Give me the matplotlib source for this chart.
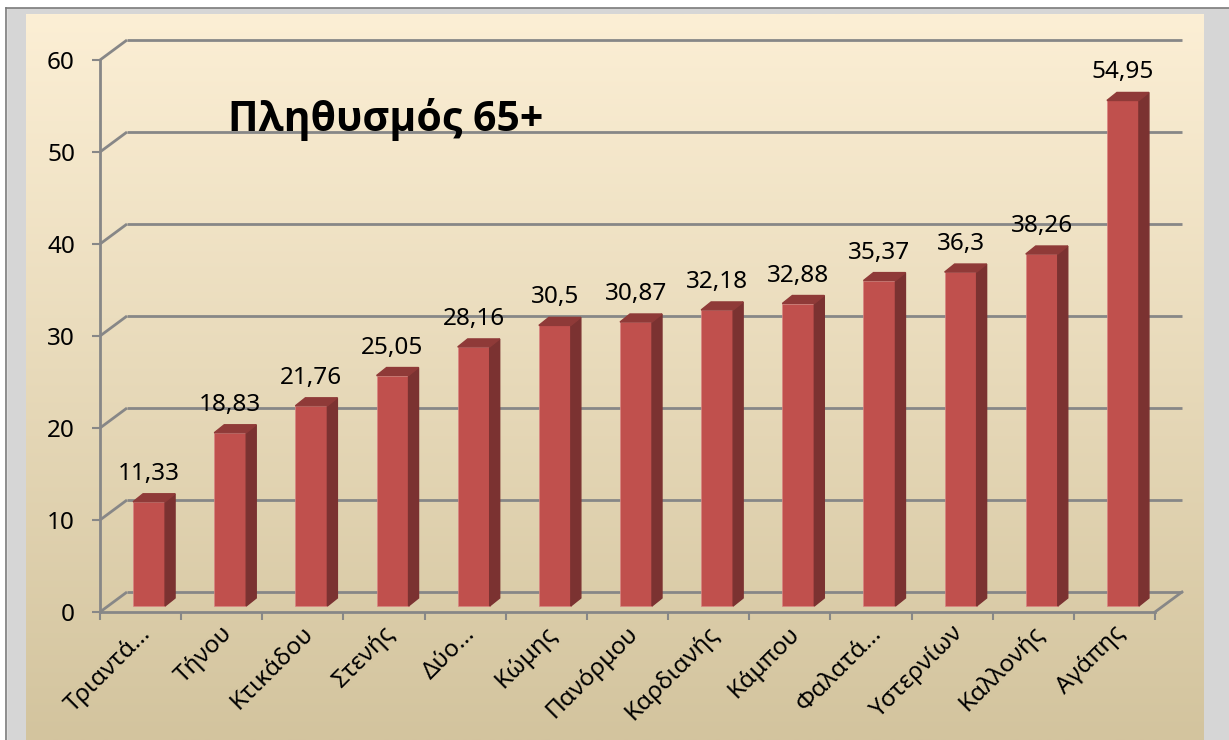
import numpy as np
import matplotlib
matplotlib.use('Agg')
import matplotlib.pyplot as plt
from matplotlib.patches import Polygon, Rectangle
from matplotlib.transforms import ScaledTranslation

plt.rcParams['font.family'] = ['Noto Sans', 'DejaVu Sans']

# data
areas = ['Τριαντά…', 'Τήνου', 'Κτικάδου', 'Στενής', 'Δύο…', 'Κώμης', 'Πανόρμου',
         'Καρδιανής', 'Κάμπου', 'Φαλατά…', 'Υστερνίων', 'Καλλονής', 'Αγάπης']
values = [11.33, 18.83, 21.76, 25.05, 28.16, 30.5, 30.87, 32.18, 32.88, 35.37, 36.3, 38.26, 54.95]
yticks = [0, 10, 20, 30, 40, 50, 60]
title = 'Πληθυσμός 65+'

W, H, DPI = 1229, 740, 100
fig = plt.figure(figsize=(W / DPI, H / DPI), dpi=DPI)
fig.patch.set_facecolor('#d6d6d6')

# outer frame bits (white margin + dark border)
fig.add_artist(Rectangle((0, 1 - 7 / H), 1, 7 / H, transform=fig.transFigure, color='white', zorder=0))
fig.add_artist(Rectangle((0, 0), 6 / W, 1, transform=fig.transFigure, color='white', zorder=0))
fig.add_artist(plt.Line2D([6.5 / W, 6.5 / W], [0, 1 - 7.5 / H], transform=fig.transFigure, color='#7a7a7a', lw=1.2))
fig.add_artist(plt.Line2D([6.5 / W, 1], [1 - 7.5 / H, 1 - 7.5 / H], transform=fig.transFigure, color='#7a7a7a', lw=1.2))

# gradient background of chart area
bg = fig.add_axes([26 / W, 0, (1204 - 26) / W, (H - 14) / H], zorder=0)
grad = np.linspace(0, 1, 256)[:, None]
c_top = np.array([252, 239, 213]) / 255
c_bot = np.array([211, 196, 158]) / 255
img = c_top[None, None, :] * (1 - grad[..., None]) + c_bot[None, None, :] * grad[..., None]
bg.imshow(img, aspect='auto', extent=[0, 1, 0, 1])
bg.axis('off')

# main axes: front plane, 0..13 by 0..60
x0, x1, y0, y1 = 100, 1155, 612, 60
ax = fig.add_axes([x0 / W, (H - y0) / H, (x1 - x0) / W, (y0 - y1) / H], zorder=1)
ax.patch.set_alpha(0)
n = len(areas)
ax.set_xlim(0, n)
ax.set_ylim(0, 60)
ppx = (x1 - x0) / n          # pixels per category
ppy = (y0 - y1) / 60         # pixels per unit

def dx(px):
    return px / ppx

def dy(px):
    return px / ppy

grid_c = '#878787'
# back wall offset
bx, by = dx(27), dy(20)
for t in yticks:
    ax.plot([0, bx], [t, t + by], color=grid_c, lw=2, clip_on=False, solid_capstyle='butt')
    ax.plot([bx, n + bx], [t + by, t + by], color=grid_c, lw=2, clip_on=False, solid_capstyle='butt')
ax.plot([n, n + bx], [0, by], color=grid_c, lw=2, clip_on=False)

for s in ['top', 'right']:
    ax.spines[s].set_visible(False)
for s in ['left', 'bottom']:
    ax.spines[s].set_color(grid_c)
    ax.spines[s].set_linewidth(2)

fs = 17.5
ax.set_yticks(yticks)
ax.tick_params(axis='y', length=6, width=1.5, color=grid_c, pad=12, labelsize=fs)
ax.set_xticks(np.arange(n + 1))
ax.set_xticklabels([])
ax.tick_params(axis='x', which='major', length=6, width=1.5, color=grid_c)
ax.set_xticks(np.arange(n) + 0.5, minor=True)
ax.set_xticklabels(areas, minor=True, rotation=45, ha='right', va='center', rotation_mode='anchor', fontsize=fs)
ax.tick_params(axis='x', which='minor', length=0, pad=13)
off = ScaledTranslation(7 / DPI, 0, fig.dpi_scale_trans)
for lab in ax.get_xticklabels(minor=True):
    lab.set_transform(lab.get_transform() + off)

# 3D-ish bars
front_c, side_c, top_c = '#c0504d', '#7b3231', '#8f3a38'
bw = dx(32)
sx = dx(8.5)           # shift of bar front face into depth
base = dy(6)
ddx, ddy = dx(10), dy(8)
xs = np.arange(n) + 0.5 + sx
ax.bar(xs, values, width=bw, bottom=base, color=front_c, edgecolor='#d98583', linewidth=0.5, zorder=3, clip_on=False)
for x, v in zip(xs, values):
    l, r, top = x - bw / 2, x + bw / 2, base + v
    ax.add_patch(Polygon([(r, base), (r + ddx, base + ddy), (r + ddx, top + ddy), (r, top)],
                         closed=True, color=side_c, zorder=3, clip_on=False))
    ax.add_patch(Polygon([(l, top), (r, top), (r + ddx, top + ddy), (l + ddx, top + ddy)],
                         closed=True, color=top_c, zorder=3, clip_on=False))
    ax.text(x, top + ddy + dy(8), f'{v:g}'.replace('.', ','), ha='center', va='bottom',
            fontsize=fs, zorder=4)

ax.text(dx(128), 53.5, title, fontsize=29.5, fontweight='bold', ha='left', va='center',
        family=['Open Sans', 'Roboto', 'DejaVu Sans'])

fig.savefig('out.png', dpi=DPI, facecolor=fig.get_facecolor())
